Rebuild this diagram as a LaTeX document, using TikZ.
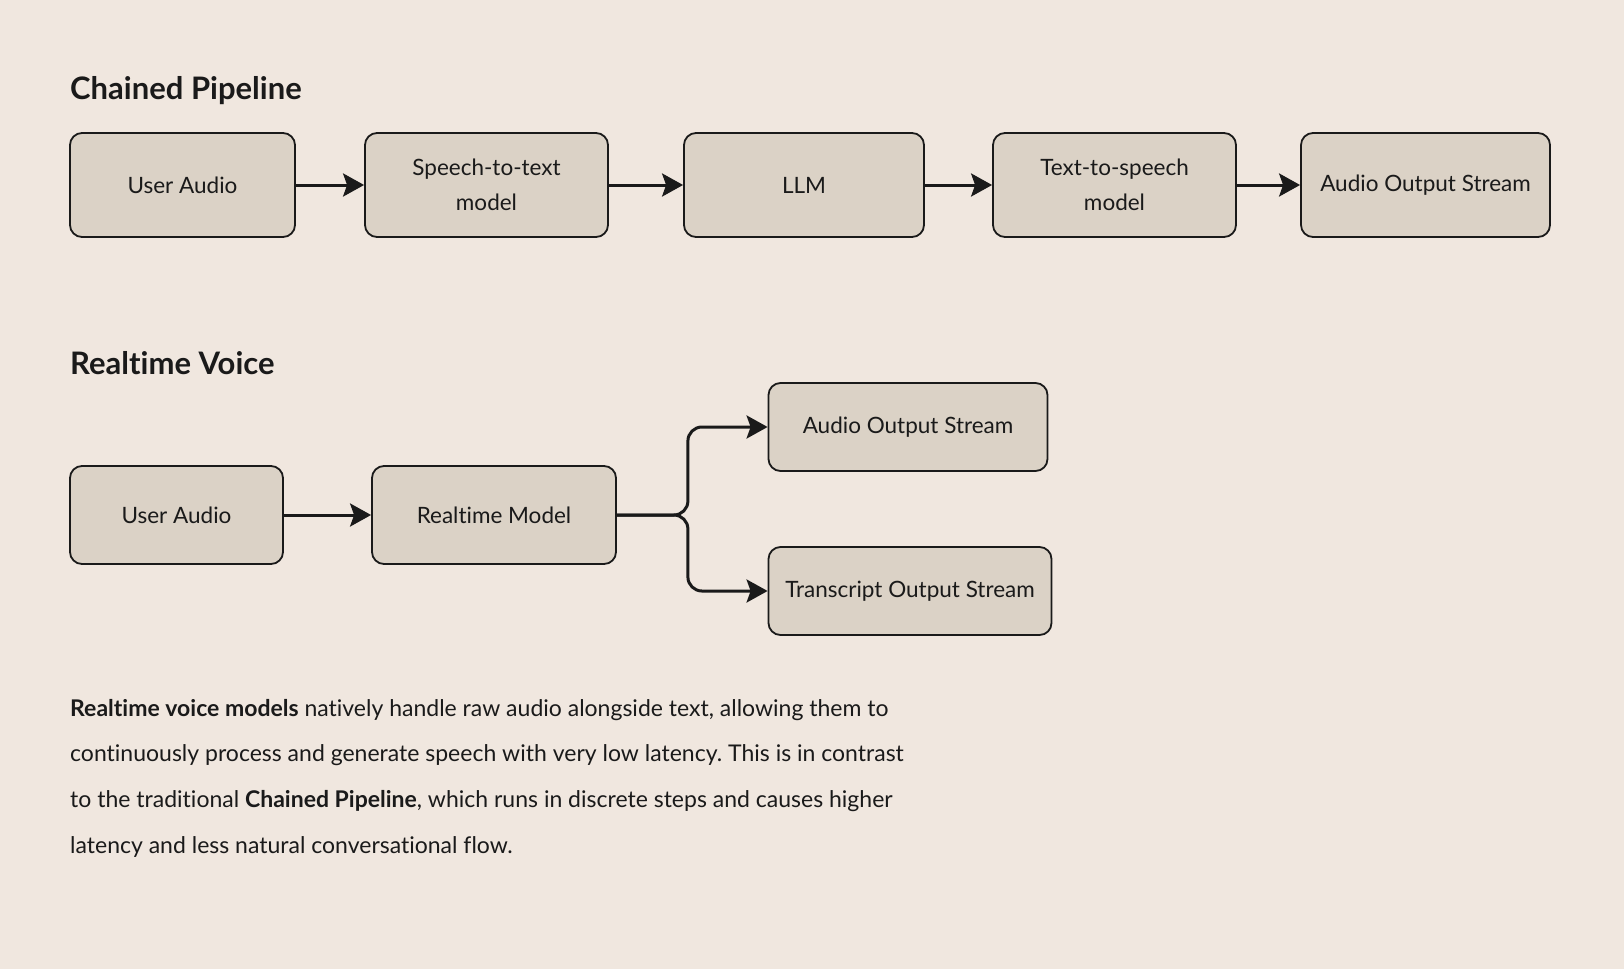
\documentclass[tikz,border=0pt]{standalone}
\usepackage{fontspec}
\setmainfont{Lato}[Ligatures={NoCommon}]
\usetikzlibrary{arrows.meta}
\frenchspacing
\definecolor{bg}{HTML}{F0E7DF}
\definecolor{boxfill}{HTML}{DBD2C6}
\definecolor{ink}{HTML}{1A1A1A}
\tikzset{
  x=1pt, y=-1pt,
  box/.style={draw=ink, fill=boxfill, line width=1.8pt, rounded corners=12pt,
    align=center, text=ink, font=\fontsize{22.5}{35}\selectfont, inner sep=0pt},
  conn/.style={draw=ink, line width=3pt,
    -{Stealth[length=21pt, width=23pt, inset=4pt]}},
  heading/.style={anchor=base west, inner sep=0pt, text=ink,
    font=\fontsize{31}{36}\selectfont\bfseries},
}
\begin{document}
\begin{tikzpicture}
\fill[bg] (0,0) rectangle (1624,969);
\useasboundingbox (0,0) rectangle (1624,969);

\node[heading] (h1) at (70,99) {Chained Pipeline};

\node[box, minimum width=225pt, minimum height=104pt] (a) at (182.5,185) {User Audio};
\node[box, minimum width=243pt, minimum height=104pt] (b) at (486.5,185) {Speech-to-text\\model};
\node[box, minimum width=240pt, minimum height=104pt] (c) at (804,185) {LLM};
\node[box, minimum width=243pt, minimum height=104pt] (d) at (1114.5,185) {Text-to-speech\\model};
\node[box, minimum width=249pt, minimum height=104pt] (e) at (1425.5,185) {Audio Output Stream};

\draw[conn] (a) -- (b);
\draw[conn] (b) -- (c);
\draw[conn] (c) -- (d);
\draw[conn] (d) -- (e);

\node[heading] (h2) at (70,374) {Realtime Voice};

\node[box, minimum width=213pt, minimum height=98pt] (ua) at (176.5,515) {User Audio};
\node[box, minimum width=244pt, minimum height=98pt] (rm) at (494,515) {Realtime Model};
\node[box, minimum width=279pt, minimum height=88pt] (aos) at (908,427) {Audio Output Stream};
\node[box, minimum width=283pt, minimum height=88pt] (tos) at (910,591) {Transcript Output Stream};

\draw[conn] (ua) -- (rm);
\draw[conn, rounded corners=14pt] (rm.east) -- ++(71,0) |- (aos.west);
\draw[conn, rounded corners=14pt] (rm.east) -- ++(71,0) |- (tos.west);

\node[anchor=north west, inner sep=0pt, align=left, text=ink,
  font=\fontsize{23}{45.6}\selectfont] (p) at (70,699)
  {\textbf{Realtime voice models} natively handle raw audio alongside text, allowing them to\\
   continuously process and generate speech with very low latency. This is in contrast\\
   to the traditional \textbf{Chained Pipeline}, which runs in discrete steps and causes higher\\
   latency and less natural conversational flow.};
\end{tikzpicture}
\end{document}
